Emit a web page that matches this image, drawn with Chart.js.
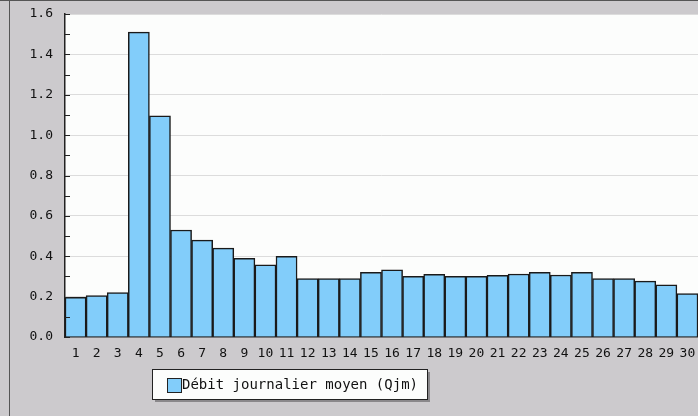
<!DOCTYPE html>
<html>
<head>
<meta charset="utf-8">
<script src="https://cdn.jsdelivr.net/npm/chart.js@4"></script>
<style>
  html, body { margin: 0; padding: 0; background: #cccacd; }
  #wrap { width: 698px; height: 416px; }
</style>
</head>
<body>
<div id="wrap"><canvas id="chart" width="698" height="416"></canvas></div>
<script>
var days = ['1','2','3','4','5','6','7','8','9','10','11','12','13','14','15',
            '16','17','18','19','20','21','22','23','24','25','26','27','28','29','30']
var qjm = [0.197, 0.205, 0.22, 1.51, 1.095, 0.53, 0.48, 0.44, 0.39, 0.357,
           0.40, 0.29, 0.29, 0.29, 0.32, 0.333, 0.30, 0.31, 0.30, 0.30,
           0.305, 0.312, 0.32, 0.307, 0.32, 0.29, 0.29, 0.277, 0.258, 0.215]
var seriesLabel = 'Débit journalier moyen (Qjm)'

var MONO = "'DejaVu Sans Mono', monospace"

// frame, minor ticks inside the plot and the shadowed legend box
var decor = {
  id: 'decor',
  beforeDraw: function (chart) {
    var c = chart.ctx
    c.save()
    c.fillStyle = '#cccacd'
    c.fillRect(0, 0, chart.width, chart.height)
    var a = chart.chartArea
    c.fillStyle = '#fcfdfc'
    c.fillRect(a.left, a.top, a.right - a.left, a.bottom - a.top)
    c.fillStyle = '#555'
    c.fillRect(0, 0, chart.width, 1)
    c.fillRect(9, 0, 1, chart.height)
    c.restore()
  },
  afterDraw: function (chart) {
    var c = chart.ctx
    var a = chart.chartArea
    var y = chart.scales.y
    c.save()
    c.strokeStyle = '#222'
    c.lineWidth = 1
    y.ticks.forEach(function (t) {
      var py = Math.round(y.getPixelForValue(t.value)) + 0.5
      c.beginPath()
      c.moveTo(a.left, py)
      c.lineTo(a.left + 5, py)
      c.stroke()
    })
    // legend
    var ds = chart.data.datasets[0]
    var bx = 152, by = 369, bw = 275, bh = 30
    c.fillStyle = '#8a888b'
    c.fillRect(bx + 3, by + 3, bw, bh)
    c.fillStyle = '#fcfdfc'
    c.fillRect(bx, by, bw, bh)
    c.strokeStyle = '#222'
    c.strokeRect(bx + 0.5, by + 0.5, bw, bh)
    c.fillStyle = ds.backgroundColor
    c.fillRect(167, 378, 14, 14)
    c.strokeRect(167.5, 378.5, 14, 14)
    c.fillStyle = '#111'
    c.font = '14px ' + MONO
    c.textBaseline = 'middle'
    c.fillText(ds.label, 182, 385)
    c.restore()
  }
}

new Chart(document.getElementById('chart'), {
  type: 'bar',
  data: {
    labels: days,
    datasets: [{
      label: seriesLabel,
      data: qjm,
      backgroundColor: '#82cdfa',
      borderColor: '#1a1a1a',
      borderWidth: 1.5,
      borderSkipped: 'bottom',
      barPercentage: 1,
      categoryPercentage: 1
    }]
  },
  options: {
    responsive: false,
    animation: false,
    layout: { autoPadding: false, padding: { left: 0, top: 14, right: 0, bottom: 0 } },
    plugins: {
      legend: { display: false },
      tooltip: { enabled: false }
    },
    scales: {
      x: {
        afterFit: function (s) {
          s.height = 79
          s.paddingLeft = 0
          s.paddingRight = 0
        },
        grid: { display: false, drawTicks: false },
        border: { display: true, color: '#222', width: 1.5 },
        ticks: { color: '#111', font: { family: MONO, size: 13 }, padding: 9, maxRotation: 0, autoSkip: false }
      },
      y: {
        min: 0,
        max: 1.6,
        afterFit: function (s) {
          s.width = 65
          s.paddingTop = 0
          s.paddingBottom = 0
        },
        ticks: {
          stepSize: 0.1,
          color: '#111',
          padding: 12,
          font: { family: MONO, size: 13 },
          callback: function (v, i) { return i % 2 === 0 ? v.toFixed(1) : '' }
        },
        grid: {
          drawTicks: false,
          color: function (ctx) {
            var i = ctx.index
            if (i === 0) return 'transparent'
            return i % 2 === 0 ? '#dcdcdc' : 'transparent'
          }
        },
        border: { display: true, color: '#222', width: 1.5 }
      }
    }
  },
  plugins: [decor]
})
</script>
</body>
</html>
